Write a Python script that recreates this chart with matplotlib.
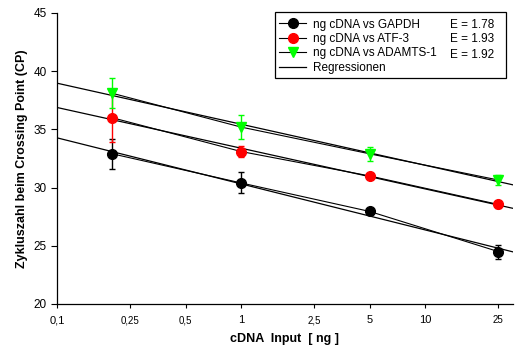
import numpy as np
import matplotlib
matplotlib.use("Agg")
import matplotlib.pyplot as plt
from matplotlib.patches import Rectangle

plt.rcParams['font.family'] = ['Liberation Sans', 'DejaVu Sans']

# Daten
cdna = [0.2, 1, 5, 25]
gapdh = [32.9, 30.4, 27.95, 24.5]
gapdh_err = [1.3, 0.9, 0.25, 0.6]
atf3 = [36.0, 33.1, 31.0, 28.55]
atf3_err = [2.05, 0.5, 0.15, 0.3]
adamts = [38.1, 35.2, 32.9, 30.65]
adamts_err = [1.3, 1.0, 0.6, 0.45]

namen = ["ng cDNA vs GAPDH", "ng cDNA vs ATF-3", "ng cDNA vs ADAMTS-1"]
effizienz = ["E = 1.78", "E = 1.93", "E = 1.92"]
farben = ["black", "#ff0000", "#00ff00"]
marker = ["o", "o", "v"]

xticks = [0.1, 0.25, 0.5, 1, 2.5, 5, 10, 25]
xticklabels = ["0,1", "0,25", "0,5", "1", "2,5", "5", "10", "25"]
yticks = [20, 25, 30, 35, 40, 45]

fig = plt.figure(figsize=(5.16, 3.48), dpi=100)
ax = fig.add_axes([57 / 516, 44 / 348, 456 / 516, 291 / 348])
ax.set_xscale("log")

handles = []
xr = np.array([0.1, 30])
for y, err, farbe, m, name in zip([gapdh, atf3, adamts], [gapdh_err, atf3_err, adamts_err],
                                  farben, marker, namen):
    # Regressionsgerade (log x)
    k, d = np.polyfit(np.log10(cdna), y, 1)
    ax.plot(xr, k * np.log10(xr) + d, color="black", lw=0.9, zorder=2)
    ax.errorbar(cdna, y, yerr=err, fmt="none", ecolor=farbe, elinewidth=1.0,
                capsize=2.5, capthick=1.0, zorder=3)
    h, = ax.plot(cdna, y, color="black", lw=0.8, marker=m, markersize=7,
                 markerfacecolor=farbe, markeredgecolor=farbe, zorder=4, label=name)
    handles.append(h)

reg, = ax.plot([], [], color="black", lw=0.9, label="Regressionen")
handles.append(reg)

ax.set_xlim(0.1, 30)
ax.set_ylim(20, 45)
ax.set_xticks(xticks)
ax.set_xticklabels(xticklabels)
ax.xaxis.set_minor_locator(matplotlib.ticker.NullLocator())
ax.set_yticks(yticks)
for lab, t in zip(ax.get_xticklabels(), xticks):
    lab.set_fontsize(8 if t in (0.1, 1, 5, 10) else 7)
ax.tick_params(axis="y", labelsize=8.5, direction="out", length=4, width=0.8)
ax.tick_params(axis="x", direction="out", length=3, width=0.8, pad=5)

ax.spines["top"].set_visible(False)
ax.spines["right"].set_visible(False)
ax.spines["left"].set_linewidth(0.9)
ax.spines["bottom"].set_linewidth(0.9)

ax.set_xlabel("cDNA  Input  [ ng ]", fontsize=9, fontweight="bold", labelpad=6)
ax.set_ylabel("Zykluszahl beim Crossing Point (CP)", fontsize=9, fontweight="bold", labelpad=4)

leg = ax.legend(handles=handles, loc="upper left", bbox_to_anchor=(218 / 456, 0.995),
                frameon=False, fontsize=8.5, handlelength=2.3, handletextpad=0.6,
                labelspacing=0.2, borderaxespad=0, borderpad=0.35)

# Rahmen der Legende und E-Werte
fig.patches.append(Rectangle((275 / 516, 1 - 78 / 348), 231 / 516, 66 / 348,
                             transform=fig.transFigure, fill=False,
                             edgecolor="black", lw=0.9))
for i, e in enumerate(effizienz):
    fig.text(450 / 516, 1 - (24.5 + 15 * i) / 348, e, fontsize=8.5, va="center", ha="left")

fig.savefig("out.png", dpi=100)
